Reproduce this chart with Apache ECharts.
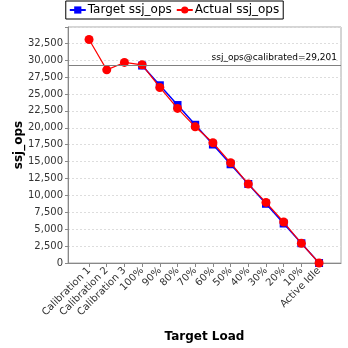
<!DOCTYPE html>
<html><head><meta charset="utf-8">
<script src="https://cdn.jsdelivr.net/npm/echarts@6/dist/echarts.min.js"></script>
<style>html,body{margin:0;padding:0;background:#fff}#c{width:348px;height:348px}</style>
</head><body><div id="c"></div>
<script>
const categories = ['Calibration 1','Calibration 2','Calibration 3','100%','90%','80%','70%','60%','50%','40%','30%','20%','10%','Active Idle'];
const targetOps = [null,null,null,29201,26281,23361,20441,17521,14600,11680,8760,5840,2920,0];
const actualOps = [33050,28560,29660,29300,25960,22860,20140,17780,14820,11670,8960,6060,2910,0];
const calibrated = 29201;
const yTicks = [0,2500,5000,7500,10000,12500,15000,17500,20000,22500,25000,27500,30000,32500];

const idx = categories.map((c,i)=>i);
const fmt = v => String(v).replace(/\B(?=(\d{3})+(?!\d))/g, ',');
const font = 'DejaVu Sans';
const chart = echarts.init(document.getElementById('c'), null, {renderer:'canvas'});
chart.setOption({
  animation:false,
  backgroundColor:'#fff',
  textStyle:{fontFamily:font},
  legend:{
    top:1, left:'center', itemGap:4,
    padding:[3,4,3,3],
    borderColor:'#000', borderWidth:1,
    itemWidth:16, itemHeight:9,
    textStyle:{fontFamily:font, fontSize:12, color:'#000', padding:[0,0,0,-3]},
    data:['Target ssj_ops','Actual ssj_ops']
  },
  grid:{left:68, right:7, top:27, bottom:85, show:true, borderColor:'#aaa', borderWidth:1, backgroundColor:'#fff'},
  xAxis:{
    type:'value', min:-1.19, max:14.24,
    name:'Target Load', nameLocation:'middle', nameGap:68, nameMoveOverlap:false,
    nameTextStyle:{fontFamily:font, fontSize:12, fontWeight:'bold', color:'#000'},
    axisLine:{show:true, onZero:false, lineStyle:{color:'#888'}},
    axisTick:{show:true, customValues:idx, length:4, lineStyle:{color:'#888'}},
    axisLabel:{customValues:idx, rotate:45, fontSize:10, color:'#333', fontFamily:font, margin:6,
      formatter:v=>categories[Math.round(v)]},
    splitLine:{show:false}
  },
  yAxis:{
    type:'value', min:0, max:34900, interval:2500,
    name:'ssj_ops', nameLocation:'middle', nameGap:43, nameMoveOverlap:false,
    nameTextStyle:{fontFamily:font, fontSize:12, fontWeight:'bold', color:'#000'},
    axisLine:{show:true, onZero:false, lineStyle:{color:'#888'}},
    axisTick:{show:true, length:3, lineStyle:{color:'#888'}},
    axisLabel:{fontSize:10, color:'#333', fontFamily:font, margin:5,
      formatter:v=> yTicks.includes(v) ? fmt(v) : ''},
    splitLine:{show:true, lineStyle:{color:'#ddd', type:[2,2]}}
  },
  series:[
    {name:'Target ssj_ops', type:'line', data:idx.map(i=>[i,targetOps[i]]),
      symbol:'rect', symbolSize:8, connectNulls:false,
      lineStyle:{color:'#0000ff', width:1.5}, itemStyle:{color:'#0000ff'}, z:2},
    {name:'Actual ssj_ops', type:'line', data:idx.map(i=>[i,actualOps[i]]),
      symbol:'circle', symbolSize:9,
      lineStyle:{color:'#ff0000', width:1.2}, itemStyle:{color:'#ff0000'}, z:3,
      markLine:{silent:true, symbol:'none', animation:false,
        lineStyle:{color:'#808080', type:'solid', width:1.2},
        label:{position:'insideEndTop', formatter:'ssj_ops@calibrated=' + fmt(calibrated),
          fontFamily:font, fontSize:9, color:'#000', distance:[4,3]},
        data:[{yAxis:calibrated}]}
    }
  ]
});
</script></body></html>
